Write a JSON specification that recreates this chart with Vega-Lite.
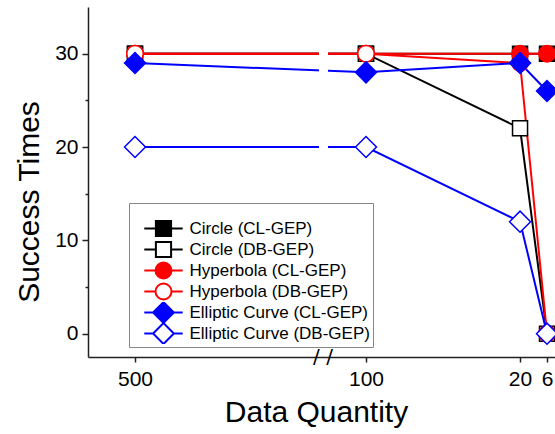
{
  "$schema": "https://vega.github.io/schema/vega-lite/v6.json",
  "autosize": {"type": "none"},
  "padding": {"left": 88, "top": 7, "right": 0, "bottom": 77},
  "width": 467,
  "height": 350,
  "background": "white",
  "config": {
    "font": "Liberation Sans",
    "view": {"stroke": null},
    "axis": {"grid": false, "domainColor": "#222", "domainWidth": 1.5, "tickColor": "#222", "tickWidth": 1.5, "labelColor": "#000", "titleColor": "#000", "labelFontSize": 21, "titleFontSize": 30, "titleFontWeight": "normal", "labelFlush": false, "labelOverlap": false, "labelBound": false},
    "legend": {"padding": 3, "strokeColor": "#888", "fillColor": "white", "symbolSize": 256, "symbolStrokeWidth": 2, "labelFontSize": 17, "labelColor": "#000", "labelLimit": 0, "symbolOffset": 22.5, "labelOffset": 17, "rowPadding": 0, "clipHeight": 21, "gridAlign": "all", "titleFontSize": 12, "titlePadding": 0}
  },
  "datasets": {
    "series": [
      {"q": 500, "v": 30, "series": "Circle (CL-GEP)"},
      {"q": 100, "v": 30, "series": "Circle (CL-GEP)"},
      {"q": 20, "v": 30, "series": "Circle (CL-GEP)"},
      {"q": 6, "v": 30, "series": "Circle (CL-GEP)"},
      {"q": 500, "v": 30, "series": "Circle (DB-GEP)"},
      {"q": 100, "v": 30, "series": "Circle (DB-GEP)"},
      {"q": 20, "v": 22, "series": "Circle (DB-GEP)"},
      {"q": 6, "v": 0, "series": "Circle (DB-GEP)"},
      {"q": 500, "v": 30, "series": "Hyperbola (CL-GEP)"},
      {"q": 100, "v": 30, "series": "Hyperbola (CL-GEP)"},
      {"q": 20, "v": 30, "series": "Hyperbola (CL-GEP)"},
      {"q": 6, "v": 30, "series": "Hyperbola (CL-GEP)"},
      {"q": 500, "v": 30, "series": "Hyperbola (DB-GEP)"},
      {"q": 100, "v": 30, "series": "Hyperbola (DB-GEP)"},
      {"q": 20, "v": 29, "series": "Hyperbola (DB-GEP)"},
      {"q": 6, "v": 0, "series": "Hyperbola (DB-GEP)"},
      {"q": 500, "v": 29, "series": "Elliptic Curve (CL-GEP)"},
      {"q": 100, "v": 28, "series": "Elliptic Curve (CL-GEP)"},
      {"q": 20, "v": 29, "series": "Elliptic Curve (CL-GEP)"},
      {"q": 6, "v": 26, "series": "Elliptic Curve (CL-GEP)"},
      {"q": 500, "v": 20, "series": "Elliptic Curve (DB-GEP)"},
      {"q": 100, "v": 20, "series": "Elliptic Curve (DB-GEP)"},
      {"q": 20, "v": 12, "series": "Elliptic Curve (DB-GEP)"},
      {"q": 6, "v": 0, "series": "Elliptic Curve (DB-GEP)"}
    ],
    "axisbreak": [
      {"from": 181.4, "to": 165.8, "mid": 174.5, "top": 35, "bottom": -2.3, "axis": -2.5, "sign": "/ /"}
    ]
  },
  "data": {"name": "series"},
  "encoding": {
    "x": {"field": "q", "type": "quantitative", "title": "Data Quantity",
      "scale": {"type": "linear", "domain": [581.4, 500, 100, 6, 1.85], "range": [0, 47, 278, 459, 467], "nice": false, "zero": false, "clamp": false},
      "axis": {"values": [500, 100, 20, 6], "tickSize": 5, "labelPadding": 6, "titleX": 228, "titleY": 64, "titleBaseline": "alphabetic"}},
    "y": {"field": "v", "type": "quantitative", "title": "Success Times",
      "scale": {"domain": [-2.5, 35], "nice": false, "zero": false},
      "axis": {"values": [0, 5, 10, 15, 20, 25, 30], "labelExpr": "datum.value % 10 === 0 ? datum.label : ''",
        "tickSize": {"condition": {"test": "datum.value % 10 === 0", "value": 6}, "value": 3},
        "labelPadding": 4, "titleX": -50, "titleY": 194.5, "titleBaseline": "alphabetic", "titleAngle": -90}}
  },
  "layer": [
    {
      "mark": {"type": "line", "strokeWidth": 2},
      "encoding": {
        "stroke": {"field": "series", "type": "nominal",
          "scale": {"domain": ["Circle (CL-GEP)", "Circle (DB-GEP)", "Hyperbola (CL-GEP)", "Hyperbola (DB-GEP)", "Elliptic Curve (CL-GEP)", "Elliptic Curve (DB-GEP)"],
            "range": ["#000000", "#000000", "#ff0000", "#ff0000", "#0000ff", "#0000ff"]}}
      }
    },
    {
      "data": {"name": "axisbreak"},
      "mark": {"type": "rect", "fill": "white"},
      "encoding": {
        "x": {"field": "from", "type": "quantitative"},
        "x2": {"field": "to"},
        "y": {"field": "top", "type": "quantitative"},
        "y2": {"field": "bottom"}
      }
    },
    {
      "data": {"name": "axisbreak"},
      "mark": {"type": "text", "font": "DejaVu Sans", "fontSize": 20, "fontWeight": "normal", "baseline": "middle", "align": "center", "color": "#000"},
      "encoding": {
        "x": {"field": "mid", "type": "quantitative"},
        "y": {"field": "axis", "type": "quantitative"},
        "text": {"field": "sign"}
      }
    },
    {
      "transform": [{"filter": "indexof(datum.series, 'Circle') === 0"}],
      "mark": {"type": "point", "shape": "square", "size": 225, "filled": true, "strokeWidth": 1.5, "opacity": 1},
      "encoding": {
        "stroke": {"field": "series", "type": "nominal"},
        "fill": {"field": "series", "type": "nominal"}
      }
    },
    {
      "transform": [{"filter": "indexof(datum.series, 'Hyperbola') === 0"}],
      "mark": {"type": "point", "shape": "circle", "size": 272, "filled": true, "strokeWidth": 1.5, "opacity": 1},
      "encoding": {
        "stroke": {"field": "series", "type": "nominal"},
        "fill": {"field": "series", "type": "nominal"}
      }
    },
    {
      "transform": [{"filter": "indexof(datum.series, 'Elliptic') === 0"}],
      "mark": {"type": "point", "shape": "diamond", "size": 441, "filled": true, "strokeWidth": 1.5, "opacity": 1},
      "encoding": {
        "stroke": {"field": "series", "type": "nominal"},
        "fill": {"field": "series", "type": "nominal"}
      }
    },
    {
      "transform": [{"filter": "false"}],
      "mark": {"type": "point", "size": 256, "filled": true, "strokeWidth": 2, "opacity": 1},
      "encoding": {
        "stroke": {"field": "series", "type": "nominal", "legend": {"title": " ", "orient": "none", "legendX": 41, "legendY": 196}},
        "fill": {"field": "series", "type": "nominal", "legend": {"title": " ", "orient": "none", "legendX": 41, "legendY": 196},
          "scale": {"domain": ["Circle (CL-GEP)", "Circle (DB-GEP)", "Hyperbola (CL-GEP)", "Hyperbola (DB-GEP)", "Elliptic Curve (CL-GEP)", "Elliptic Curve (DB-GEP)"],
            "range": ["#000000", "#ffffff", "#ff0000", "#ffffff", "#0000ff", "#ffffff"]}},
        "shape": {"field": "series", "type": "nominal", "legend": {"title": " ", "orient": "none", "legendX": 41, "legendY": 196},
          "scale": {"domain": ["Circle (CL-GEP)", "Circle (DB-GEP)", "Hyperbola (CL-GEP)", "Hyperbola (DB-GEP)", "Elliptic Curve (CL-GEP)", "Elliptic Curve (DB-GEP)"],
            "range": [
              "M-2.4,0H-0.95M0.95,0H2.4M-0.95,-0.95H0.95V0.95H-0.95Z",
              "M-2.4,0H-0.95M0.95,0H2.4M-0.95,-0.95H0.95V0.95H-0.95Z",
              "M-2.4,0H-1M1,0H2.4M-1,0A1,1,0,1,1,1,0A1,1,0,1,1,-1,0Z",
              "M-2.4,0H-1M1,0H2.4M-1,0A1,1,0,1,1,1,0A1,1,0,1,1,-1,0Z",
              "M-2.4,0H-1.3M1.3,0H2.4M-1.3,0L0,-1.3L1.3,0L0,1.3Z",
              "M-2.4,0H-1.3M1.3,0H2.4M-1.3,0L0,-1.3L1.3,0L0,1.3Z"
            ]}}
      }
    }
  ]
}
